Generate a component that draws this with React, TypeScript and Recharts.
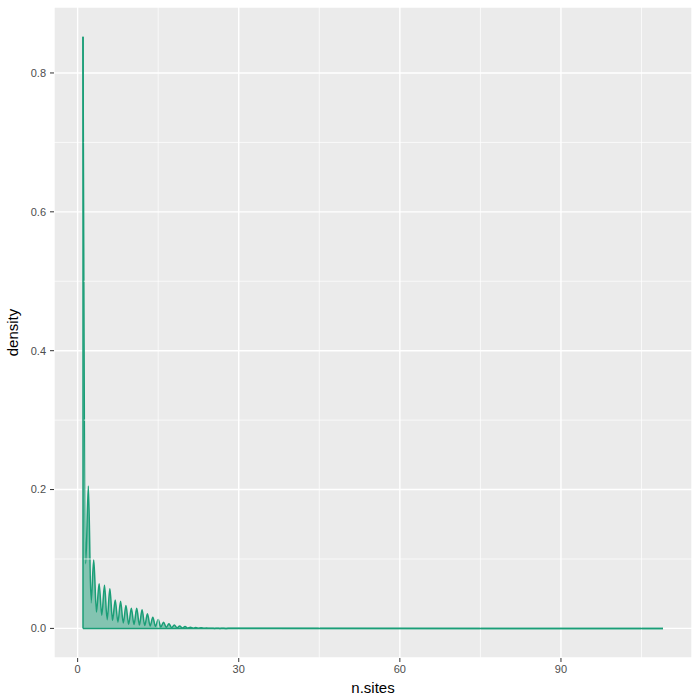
import { AreaChart, Area, XAxis, YAxis, CartesianGrid, ReferenceLine } from "recharts";

// density peaks at each whole n.sites value (1, 2, 3, ...)
const peakDensity = [
  0.852, 0.205, 0.099, 0.0645, 0.062, 0.057, 0.041, 0.039, 0.033, 0.029,
  0.029, 0.027, 0.021, 0.016, 0.013, 0.009, 0.0068, 0.005, 0.0036, 0.0026,
  0.0018, 0.0013, 0.0009, 0.0006, 0.0004, 0.0003, 0.0002, 0.0001,
];
// density dips half way between neighbouring peaks (1.5, 2.5, ...)
const troughDensity = [
  0.093, 0.037, 0.0236, 0.019, 0.0125, 0.0116, 0.009, 0.0077, 0.006, 0.0058,
  0.005, 0.0042, 0.0035, 0.0028, 0.002, 0.0015, 0.0011, 0.0008, 0.0006, 0.0004,
  0.0003, 0.0002, 0.00015, 0.0001, 0.00005, 0, 0,
];
const minSites = 1;
const maxSites = 109;

const xTicks = [0, 30, 60, 90];
const xMinor = [15, 45, 75, 105];
const yTicks = [0, 0.2, 0.4, 0.6, 0.8];
const yMinor = [0.1, 0.3, 0.5, 0.7];

const data: { sites: number; density: number }[] = [];
peakDensity.forEach((d, i) => {
  data.push({ sites: minSites + i, density: d });
  if (i < troughDensity.length) data.push({ sites: minSites + i + 0.5, density: troughDensity[i] });
});
data.push({ sites: maxSites, density: 0 });

const GREEN = "#1B9E77";
const tickStyle = { fontSize: 11, fill: "#4D4D4D", fontFamily: "Liberation Sans, Arial, sans-serif" };

export default function App() {
  return (
    <div style={{ position: "absolute", left: 0, top: 0, width: 700, height: 700, background: "#fff" }}>
      <AreaChart width={700} height={700} data={data} margin={{ top: 7, right: 8, left: 0, bottom: 0 }}>
        <CartesianGrid fill="#EBEBEB" stroke="#FFFFFF" strokeWidth={1.4} />
        {xMinor.map((v) => (
          <ReferenceLine key={"xm" + v} x={v} stroke="#FFFFFF" strokeWidth={0.7} />
        ))}
        {yMinor.map((v) => (
          <ReferenceLine key={"ym" + v} y={v} stroke="#FFFFFF" strokeWidth={0.7} />
        ))}
        <XAxis
          type="number"
          dataKey="sites"
          domain={[-4.4, 114.4]}
          ticks={xTicks}
          allowDataOverflow
          axisLine={false}
          tickLine={{ stroke: "#333333" }}
          tickSize={4}
          tickMargin={3}
          tick={tickStyle}
          height={42}
          label={{
            value: "n.sites",
            position: "insideBottom",
            offset: 7,
            fill: "#000",
            fontSize: 15,
            fontFamily: "Liberation Sans, Arial, sans-serif",
          }}
        />
        <YAxis
          type="number"
          domain={[-0.0426, 0.895]}
          ticks={yTicks}
          allowDataOverflow
          tickFormatter={(v: number) => v.toFixed(1)}
          axisLine={false}
          tickLine={{ stroke: "#333333" }}
          tickSize={4}
          tickMargin={4}
          tick={tickStyle}
          width={54}
          label={{
            value: "density",
            angle: -90,
            position: "insideLeft",
            offset: 13,
            fill: "#000",
            fontSize: 15,
            fontFamily: "Liberation Sans, Arial, sans-serif",
            style: { textAnchor: "middle" },
          }}
        />
        <Area
          type="monotone"
          dataKey="density"
          stroke={GREEN}
          strokeWidth={1.5}
          fill={GREEN}
          fillOpacity={0.5}
          baseValue={0}
          isAnimationActive={false}
          dot={false}
          activeDot={false}
        />
        <ReferenceLine
          segment={[{ x: minSites, y: 0 }, { x: maxSites, y: 0 }]}
          stroke={GREEN}
          strokeWidth={1.5}
        />
        <ReferenceLine
          segment={[{ x: minSites, y: 0 }, { x: minSites, y: peakDensity[0] }]}
          stroke={GREEN}
          strokeWidth={1.5}
        />
      </AreaChart>
    </div>
  );
}
